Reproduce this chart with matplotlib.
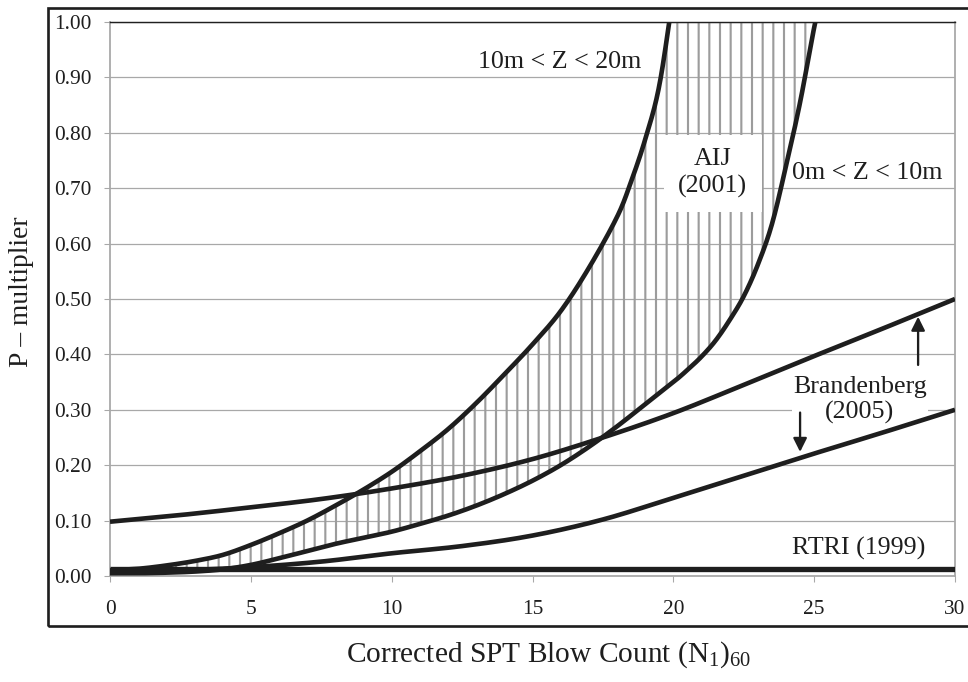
import numpy as np
import matplotlib
matplotlib.use("Agg")
import matplotlib.pyplot as plt
from matplotlib.patches import Rectangle

plt.rcParams['font.family'] = ['Liberation Serif', 'DejaVu Serif']
plt.rcParams['mathtext.fontset'] = 'custom'
plt.rcParams['mathtext.rm'] = 'Liberation Serif'
plt.rcParams['mathtext.it'] = 'Liberation Serif:italic'
plt.rcParams['hatch.linewidth'] = 1.2
plt.rcParams['hatch.color'] = '#9c9c9c'

# AIJ (2001), 10m < Z < 20m
n_aij_deep = [0, 1, 2, 3, 4, 5, 6, 7, 8, 9, 10, 11, 12, 13, 14, 15, 16, 17, 18, 18.5, 19, 19.5, 20]
p_aij_deep = [0.010, 0.013, 0.019, 0.027, 0.038, 0.056, 0.077, 0.100, 0.127, 0.156, 0.188, 0.225,
              0.265, 0.312, 0.364, 0.418, 0.478, 0.556, 0.648, 0.712, 0.788, 0.885, 1.050]

# AIJ (2001), 0m < Z < 10m
n_aij_shallow = [0, 1, 2, 3, 4, 5, 6, 7, 8, 9, 10, 11, 12, 13, 14, 15, 16, 17, 18, 19, 20,
                 20.5, 21, 21.5, 22, 22.5, 23, 23.5, 24, 24.5, 25, 25.3]
p_aij_shallow = [0.005, 0.005, 0.006, 0.008, 0.012, 0.020, 0.032, 0.045, 0.058, 0.069, 0.080,
                 0.094, 0.109, 0.127, 0.148, 0.172, 0.200, 0.233, 0.270, 0.310, 0.350,
                 0.372, 0.396, 0.425, 0.462, 0.505, 0.562, 0.635, 0.740, 0.855, 0.990, 1.060]

# Brandenberg (2005), upper and lower bounds
n_brand = [0, 2.5, 5, 7.5, 10, 12.5, 15, 17.5, 20, 22.5, 25, 27.5, 30]
p_brand_up = [0.098, 0.110, 0.124, 0.139, 0.158, 0.181, 0.211, 0.250, 0.294, 0.345, 0.397, 0.448, 0.500]
p_brand_lo = [0.006, 0.010, 0.016, 0.026, 0.041, 0.054, 0.073, 0.102, 0.141, 0.181, 0.221, 0.260, 0.300]

# RTRI (1999)
n_rtri = [0, 30]
p_rtri = [0.012, 0.012]

x_ticks = [0, 5, 10, 15, 20, 25, 30]
y_ticks = [0.0, 0.1, 0.2, 0.3, 0.4, 0.5, 0.6, 0.7, 0.8, 0.9, 1.0]


def smooth(xp, yp, steps=20):
    # Catmull-Rom through the points, like the smoothed lines of a spreadsheet chart
    pts = np.column_stack([xp, yp]).astype(float)
    pts = np.vstack([2 * pts[0] - pts[1], pts, 2 * pts[-1] - pts[-2]])
    t = np.linspace(0, 1, steps, endpoint=False)[:, None]
    out = []
    for i in range(1, len(pts) - 2):
        p0, p1, p2, p3 = pts[i - 1], pts[i], pts[i + 1], pts[i + 2]
        seg = 0.5 * ((2 * p1) + (-p0 + p2) * t + (2 * p0 - 5 * p1 + 4 * p2 - p3) * t ** 2
                     + (-p0 + 3 * p1 - 3 * p2 + p3) * t ** 3)
        out.append(seg)
    out.append(pts[-2][None, :])
    out = np.vstack(out)
    return out[:, 0], out[:, 1]


dpi = 128
fig = plt.figure(figsize=(968 / dpi, 682 / dpi), dpi=dpi)
ax = fig.add_axes([110 / 968, 106 / 682, 845 / 968, 554 / 682])

line_col = '#1e1e1e'
grid_col = '#a8a8a8'

deep_x, deep_y = smooth(n_aij_deep, p_aij_deep)
shal_x, shal_y = smooth(n_aij_shallow, p_aij_shallow)
bu_x, bu_y = smooth(n_brand, p_brand_up)
bl_x, bl_y = smooth(n_brand, p_brand_lo)

# hatched AIJ band
xs = np.linspace(0, 30, 1201)
up = np.interp(xs, deep_x, deep_y)
lo = np.interp(xs, shal_x, shal_y)
ax.fill_between(xs, lo, np.minimum(up, 1.0), where=up > lo + 0.004, facecolor='none',
                edgecolor='#9c9c9c', hatch='||', linewidth=0, zorder=2)

lw = 2.6
ax.plot(deep_x, deep_y, color=line_col, lw=lw, zorder=4, solid_capstyle='butt')
ax.plot(shal_x, shal_y, color=line_col, lw=lw, zorder=4, solid_capstyle='butt')
ax.plot(bu_x, bu_y, color=line_col, lw=lw, zorder=4, solid_capstyle='butt')
ax.plot(bl_x, bl_y, color=line_col, lw=lw, zorder=4, solid_capstyle='butt')
ax.plot(n_rtri, p_rtri, color=line_col, lw=3.0, zorder=4, solid_capstyle='butt')

ax.set_xlim(0, 30)
ax.set_ylim(0, 1.0)
ax.set_xticks(x_ticks)
ax.set_yticks(y_ticks)
ax.set_yticklabels(['%.2f' % v for v in y_ticks])
ax.yaxis.grid(True, color=grid_col, lw=0.7)
ax.set_axisbelow(True)
ax.tick_params(axis='both', direction='out', length=3.4, width=0.6, color=grid_col,
               labelsize=12, labelcolor='#1e1e1e')
ax.tick_params(axis='x', pad=10)
ax.tick_params(axis='y', pad=7)
for side in ['left', 'right', 'bottom']:
    ax.spines[side].set_color(grid_col)
    ax.spines[side].set_linewidth(1.0)
ax.spines['top'].set_color('#202020')
ax.spines['top'].set_linewidth(0.8)

tsize = 14.6
ax.text(15.96, 0.927, '10m < Z < 20m', fontsize=tsize, ha='center', va='center', color=line_col, zorder=5)
ax.text(24.2, 0.727, '0m < Z < 10m', fontsize=tsize, ha='left', va='center', color=line_col, zorder=5)
ax.text(21.4, 0.727, 'AIJ\n(2001)', fontsize=tsize, ha='center', va='center', color=line_col,
        linespacing=1.25, zorder=5,
        bbox=dict(boxstyle='square,pad=0.55', facecolor='white', edgecolor='none'))
ax.text(26.62, 0.318, 'Brandenberg\n(2005)', fontsize=tsize, ha='center', va='center', color=line_col,
        linespacing=1.15, zorder=3,
        bbox=dict(boxstyle='square,pad=0.05', facecolor='white', edgecolor='none'))
ax.text(26.57, 0.050, 'RTRI (1999)', fontsize=tsize, ha='center', va='center', color=line_col, zorder=5)

arrow = dict(arrowstyle='-|>', color=line_col, lw=1.3, mutation_scale=16, shrinkA=0, shrinkB=0)
ax.annotate('', xy=(28.69, 0.468), xytext=(28.69, 0.381), arrowprops=arrow, zorder=6)
ax.annotate('', xy=(24.5, 0.224), xytext=(24.5, 0.295), arrowprops=arrow, zorder=6)

# outer chart frame
fig.patches.append(Rectangle((48 / 968, 56 / 682), 1.0, 618 / 682, transform=fig.transFigure,
                             facecolor='none', edgecolor='#1e1e1e', lw=1.5, clip_on=False))

fig.text(549 / 968, 1 - 655 / 682, 'Corrected SPT Blow Count (N$_1$)$_{60}$', fontsize=16.5,
         ha='center', va='center', color=line_col)
fig.text(22 / 968, 1 - 292 / 682, 'P \u2013 multiplier', fontsize=15.5, rotation=90,
         ha='center', va='center', color=line_col)

fig.savefig('out.png', dpi=dpi, facecolor='white')
